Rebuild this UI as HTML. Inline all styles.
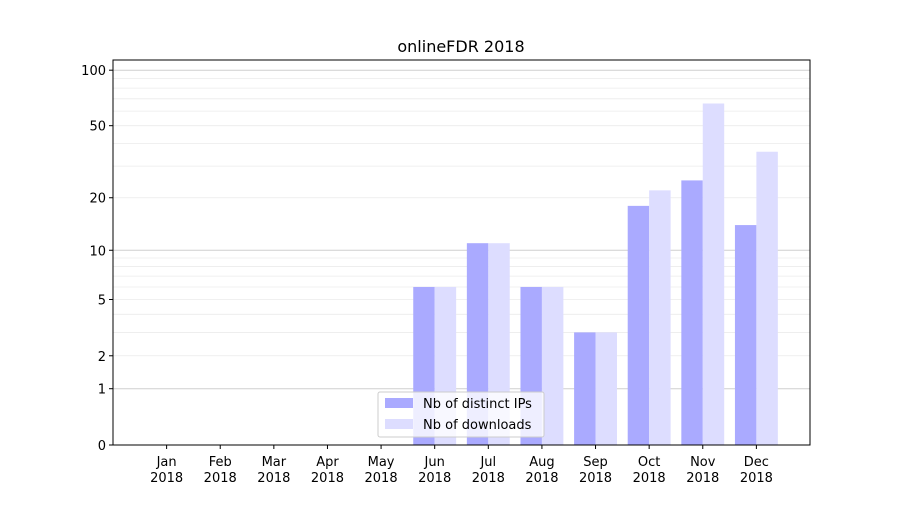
<!DOCTYPE html>
<html><head><meta charset="utf-8"><style>
body{margin:0;background:#fff;font-family:"Liberation Sans","DejaVu Sans",sans-serif;}
text{font-family:"DejaVu Sans","Liberation Sans",sans-serif;}
</style></head><body>
<svg id="chart" width="900" height="500" viewBox="0 0 900 500" xmlns="http://www.w3.org/2000/svg">
<rect width="900" height="500" fill="#fff"/>
<text x="461" y="52" font-size="16" text-anchor="middle">onlineFDR 2018</text>
<g id="grid"></g><g id="bars"></g><g id="axes"></g>
<g>
<rect x="378" y="392" width="166" height="45" fill="#fff" fill-opacity="0.8" stroke="#ccc" rx="2"/>
<rect x="385" y="398" width="28" height="10" fill="#aaaaff"/>
<text x="423" y="408" font-size="13">Nb of distinct IPs</text>
<rect x="385" y="419" width="28" height="10" fill="#ddddff"/>
<text x="423" y="429" font-size="13">Nb of downloads</text>
</g>
</svg>
<script>
const months=["Jan","Feb","Mar","Apr","May","Jun","Jul","Aug","Sep","Oct","Nov","Dec"];
const ips=[0,0,0,0,0,6,11,6,3,18,25,14];
const downloads=[0,0,0,0,0,6,11,6,3,22,66,36];
const tickVals=[0,1,2,5,10,20,50,100];
const majorGrid=[1,10,100];
const minorGrid=[2,3,4,5,6,7,8,9,20,30,40,50,60,70,80,90];
const NS="http://www.w3.org/2000/svg";
const L=113,R=810,T=60,B=445;
function y(v){return B-Math.log10(1+v)*187;}
function x(i){return L+(i+1)*(R-L)/13;}
const bw=(R-L)/13*0.4;
function mk(tag,attrs,parent){const e=document.createElementNS(NS,tag);for(const k in attrs)e.setAttribute(k,attrs[k]);document.getElementById(parent).appendChild(e);return e;}
minorGrid.forEach(v=>{const e=mk("line",{x1:L,x2:R,y1:y(v),y2:y(v),stroke:"#ebebeb","stroke-width":0.8},"grid");

});
majorGrid.forEach(v=>{const e=mk("line",{x1:L,x2:R,y1:y(v),y2:y(v),stroke:"#cfcfcf","stroke-width":1},"grid");

});
months.forEach((m,i)=>{
 if(ips[i]>0){const a=mk("rect",{x:x(i)-bw,y:y(ips[i]),width:bw,height:B-y(ips[i]),fill:"#aaaaff"},"bars");
 
 }
 if(downloads[i]>0){const b=mk("rect",{x:x(i),y:y(downloads[i]),width:bw,height:B-y(downloads[i]),fill:"#ddddff"},"bars");
 
 }
 mk("line",{x1:x(i),x2:x(i),y1:B,y2:B+4,stroke:"#000"},"axes");
 const t=mk("text",{x:x(i),y:B+21,"font-size":13,"text-anchor":"middle"},"axes");t.textContent=m;
 
 
 const t2=mk("text",{x:x(i),y:B+37,"font-size":13,"text-anchor":"middle"},"axes");t2.textContent="2018";
 
 
});
tickVals.forEach(v=>{
 mk("line",{x1:L-4,x2:L,y1:y(v),y2:y(v),stroke:"#000"},"axes");
 const t=mk("text",{x:L-7,y:y(v)+5,"font-size":13,"text-anchor":"end"},"axes");t.textContent=v;
 
 
});
const f=mk("rect",{x:L,y:T,width:R-L,height:B-T,fill:"none",stroke:"#000","stroke-width":1},"axes");


</script>
</body></html>
